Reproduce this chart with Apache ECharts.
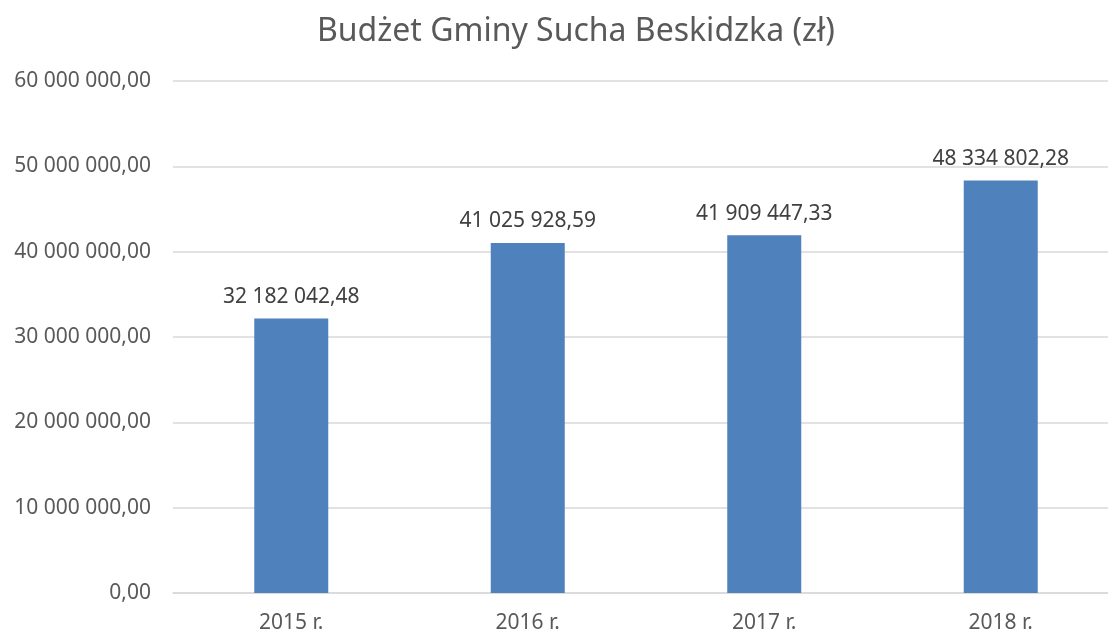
<!DOCTYPE html>
<html>
<head>
<meta charset="utf-8">
<script src="https://cdn.jsdelivr.net/npm/echarts@6/dist/echarts.min.js"></script>
<style>
  html, body { margin: 0; padding: 0; background: #fff; overflow: hidden; }
  #chart { width: 1120px; height: 632px; }
</style>
</head>
<body>
<div id="chart"></div>
<script>
var years = ['2015 r.', '2016 r.', '2017 r.', '2018 r.'];
var budget = [32182042.48, 41025928.59, 41909447.33, 48334802.28];

// format as "41 025 928,59"
function plFormat(v) {
    var parts = Number(v).toFixed(2).split('.');
    var intPart = parts[0].replace(/\B(?=(\d{3})+(?!\d))/g, ' ');
    return intPart + ',' + parts[1];
}

// the chart is a bit wider than the window, right edge gets cropped like in the original
var myChart = echarts.init(document.getElementById('chart'));

var option = {
    animation: false,
    title: {
        text: 'Budżet Gminy Sucha Beskidzka (zł)',
        left: 312,
        top: 11,
        textStyle: {
            fontFamily: 'Noto Sans',
            fontSize: 32,
            fontWeight: 'normal',
            color: '#595959'
        }
    },
    grid: {
        left: 173,
        right: 1,
        top: 81,
        bottom: 39,
        outerBoundsMode: 'none'
    },
    xAxis: {
        type: 'category',
        data: years,
        axisTick: { show: false },
        axisLine: { lineStyle: { color: '#d9d9d9', width: 1.5 } },
        axisLabel: {
            margin: 20,
            fontFamily: 'Noto Sans',
            fontSize: 21,
            color: '#595959'
        }
    },
    yAxis: {
        type: 'value',
        min: 0,
        max: 60000000,
        interval: 10000000,
        axisLine: { show: false },
        axisTick: { show: false },
        splitLine: { lineStyle: { color: '#d9d9d9', width: 1.5 } },
        axisLabel: {
            margin: 22,
            fontFamily: 'Noto Sans',
            fontSize: 21,
            color: '#595959',
            formatter: plFormat
        }
    },
    series: [
        {
            type: 'bar',
            data: budget,
            barWidth: 74,
            itemStyle: { color: '#4f81bd' },
            label: {
                show: true,
                position: 'top',
                distance: 11,
                fontFamily: 'Noto Sans',
                fontSize: 21,
                color: '#404040',
                formatter: function(p) { return plFormat(p.value); }
            }
        }
    ]
};

myChart.setOption(option);
</script>
</body>
</html>
